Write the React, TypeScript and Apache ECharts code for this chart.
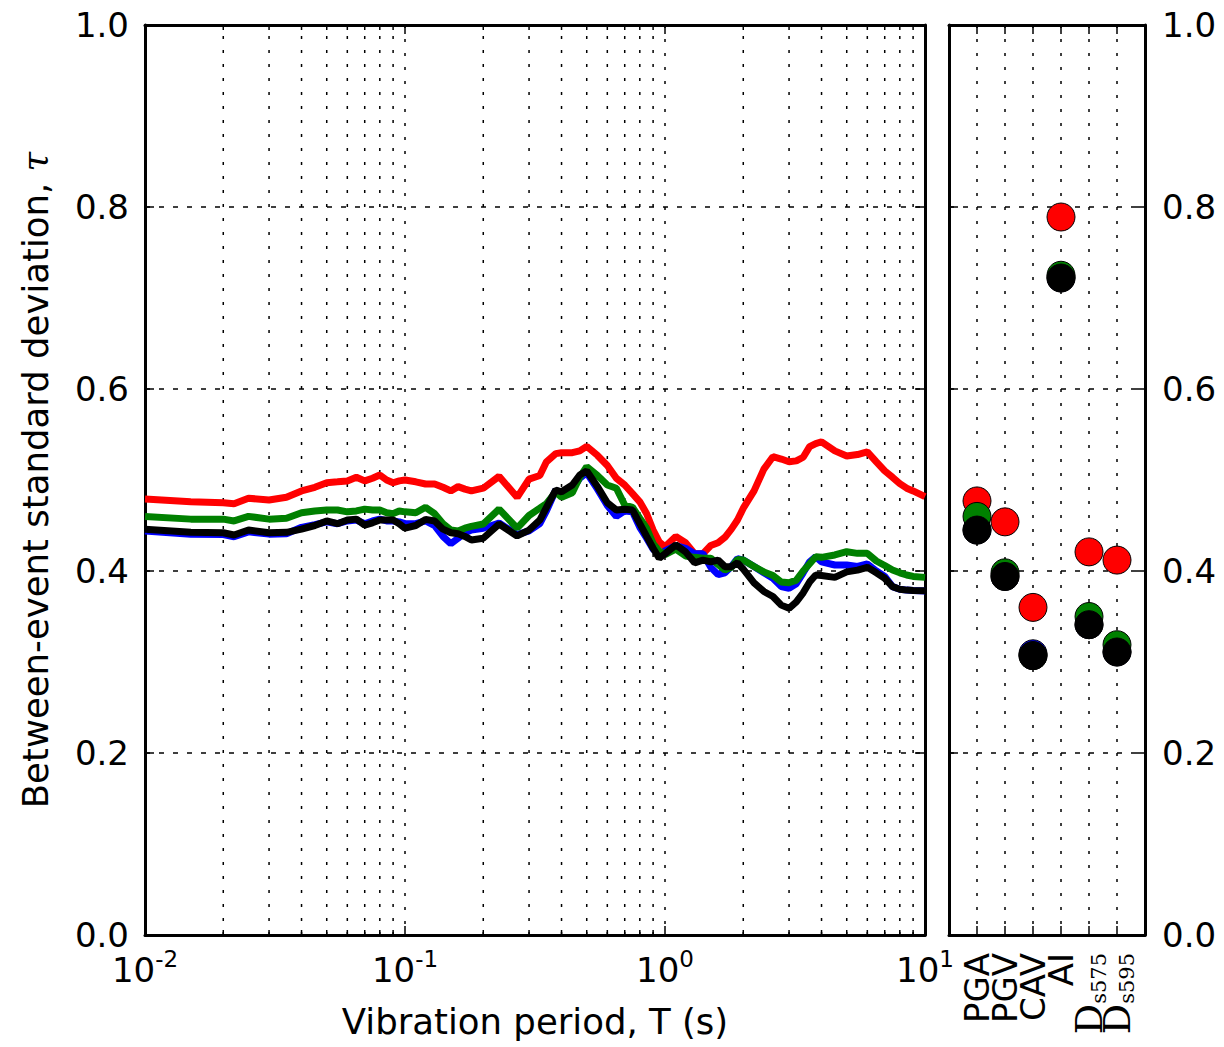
import React, { useEffect, useRef } from 'react';
import * as echarts from 'echarts';

// ---- Data ----
const periods = [0.01, 0.015, 0.02, 0.022, 0.025, 0.03, 0.035, 0.04, 0.045, 0.05,
  0.055, 0.06, 0.065, 0.07, 0.075, 0.08, 0.085, 0.09, 0.095, 0.1,
  0.11, 0.12, 0.13, 0.14, 0.15, 0.16, 0.17, 0.18, 0.2, 0.23,
  0.27, 0.3, 0.33, 0.35, 0.38, 0.4, 0.44, 0.47, 0.5, 0.55,
  0.6, 0.65, 0.7, 0.75, 0.8, 0.85, 0.9, 0.95, 1.0, 1.1,
  1.2, 1.3, 1.4, 1.5, 1.6, 1.7, 1.8, 1.9, 2.0, 2.2,
  2.4, 2.6, 2.8, 3.0, 3.2, 3.4, 3.6, 3.8, 4.0, 4.5,
  5.0, 5.5, 6.0, 6.5, 7.0, 7.5, 8.0, 8.5, 9.0, 10.0];

const tauRed = [0.479, 0.476, 0.475, 0.474, 0.480, 0.478, 0.481, 0.488, 0.492, 0.497,
  0.498, 0.499, 0.503, 0.499, 0.502, 0.5055, 0.500, 0.497, 0.499, 0.500,
  0.498, 0.4956, 0.4956, 0.492, 0.488, 0.4927, 0.490, 0.488, 0.491, 0.504,
  0.481, 0.501, 0.505, 0.520, 0.529, 0.530, 0.530, 0.532, 0.537, 0.527,
  0.516, 0.502, 0.4945, 0.485, 0.476, 0.463, 0.445, 0.432, 0.4267, 0.438,
  0.431, 0.419, 0.419, 0.428, 0.431, 0.437, 0.446, 0.456, 0.469, 0.488,
  0.512, 0.5256, 0.523, 0.520, 0.521, 0.525, 0.5366, 0.540, 0.542, 0.532,
  0.5264, 0.528, 0.531, 0.520, 0.510, 0.503, 0.496, 0.491, 0.488, 0.4817];

const tauBlue = [0.444, 0.4405, 0.440, 0.4376, 0.443, 0.4405, 0.441, 0.448, 0.451, 0.454,
  0.452, 0.455, 0.456, 0.452, 0.455, 0.457, 0.455, 0.455, 0.454, 0.452,
  0.452, 0.455, 0.450, 0.438, 0.430, 0.436, 0.442, 0.445, 0.447, 0.4527,
  0.440, 0.444, 0.452, 0.466, 0.489, 0.484, 0.490, 0.502, 0.508, 0.490,
  0.472, 0.460, 0.466, 0.465, 0.448, 0.436, 0.424, 0.418, 0.422, 0.428,
  0.425, 0.419, 0.419, 0.404, 0.396, 0.398, 0.405, 0.4135, 0.412, 0.405,
  0.398, 0.392, 0.383, 0.381, 0.386, 0.398, 0.410, 0.4157, 0.410, 0.4066,
  0.4066, 0.405, 0.4077, 0.400, 0.394, 0.3828, 0.380, 0.379, 0.3785, 0.378];

const tauGreen = [0.460, 0.457, 0.457, 0.455, 0.460, 0.457, 0.458, 0.464, 0.466, 0.467,
  0.467, 0.465, 0.466, 0.468, 0.467, 0.467, 0.464, 0.463, 0.466, 0.465,
  0.464, 0.470, 0.463, 0.452, 0.445, 0.444, 0.447, 0.449, 0.4516, 0.468,
  0.447, 0.461, 0.469, 0.474, 0.487, 0.481, 0.486, 0.503, 0.5146, 0.505,
  0.4945, 0.491, 0.4725, 0.470, 0.458, 0.447, 0.430, 0.422, 0.418, 0.424,
  0.4165, 0.415, 0.414, 0.414, 0.407, 0.401, 0.404, 0.4128, 0.412, 0.405,
  0.399, 0.395, 0.388, 0.387, 0.390, 0.400, 0.408, 0.4157, 0.415, 0.4176,
  0.4212, 0.4194, 0.4194, 0.411, 0.406, 0.401, 0.398, 0.3956, 0.394, 0.393];

const tauBlack = [0.446, 0.4425, 0.442, 0.4396, 0.445, 0.442, 0.4425, 0.446, 0.450, 0.455,
  0.452, 0.456, 0.457, 0.4505, 0.453, 0.456, 0.456, 0.456, 0.452, 0.447,
  0.450, 0.4567, 0.455, 0.446, 0.442, 0.441, 0.438, 0.434, 0.436, 0.4516,
  0.4385, 0.445, 0.456, 0.470, 0.489, 0.487, 0.4945, 0.5055, 0.510, 0.4927,
  0.475, 0.467, 0.4678, 0.467, 0.452, 0.438, 0.425, 0.414, 0.419, 0.4286,
  0.421, 0.409, 0.412, 0.410, 0.412, 0.4048, 0.4048, 0.409, 0.402, 0.387,
  0.3775, 0.372, 0.3625, 0.359, 0.366, 0.376, 0.388, 0.3956, 0.395, 0.393,
  0.399, 0.401, 0.404, 0.398, 0.392, 0.3828, 0.380, 0.379, 0.3785, 0.3784];

const imtNames = ['PGA', 'PGV', 'CAV', 'AI', 'D|s575', 'D|s595'];
const imtRed = [0.477, 0.454, 0.360, 0.789, 0.421, 0.412];
const imtBlue = [0.445, 0.394, 0.309, 0.722, 0.341, 0.311];
const imtGreen = [0.460, 0.398, 0.307, 0.725, 0.350, 0.319];
const imtBlack = [0.445, 0.394, 0.307, 0.722, 0.341, 0.311];

const minorPeriods = [0.02, 0.03, 0.04, 0.05, 0.06, 0.07, 0.08, 0.09,
  0.2, 0.3, 0.4, 0.5, 0.6, 0.7, 0.8, 0.9,
  2, 3, 4, 5, 6, 7, 8, 9];

const FONT = 'DejaVu Sans';
const FS = 34;
const TFS = 35.5;

export default function App() {
  const ref = useRef<HTMLDivElement>(null);
  useEffect(() => {
    document.body.style.margin = '0';
    const chart = echarts.init(ref.current!, null, { renderer: 'svg' });
    const frameLine = { show: true, onZero: false, lineStyle: { color: '#000', width: 3 } };
    const tick = { show: true, inside: true, length: 9, lineStyle: { color: '#000', width: 1.5 } };
    const dotted = { show: true, lineStyle: { color: '#000', width: 1.5, type: [3, 11] } };
    const dashed = { show: true, lineStyle: { color: '#000', width: 1.5, type: [5, 9] } };
    const noLabel = { show: false };
    const noSplit = { show: false };

    const lineSeries = (data: number[], color: string) => ({
      type: 'line', xAxisIndex: 0, yAxisIndex: 0, showSymbol: false, symbol: 'none',
      data: periods.map((p, i) => [p, data[i]]),
      lineStyle: { color, width: 7 }, itemStyle: { color }, z: 3,
    });
    const dotSeries = (data: number[], color: string) => ({
      type: 'scatter', xAxisIndex: 2, yAxisIndex: 2, symbolSize: 28,
      data: data.map((v, i) => [i, v]),
      itemStyle: { color, borderColor: '#000', borderWidth: 1, opacity: 1 }, z: 3,
    });

    const option: any = {
      animation: false,
      textStyle: { fontFamily: FONT },
      grid: [
        { left: 145, top: 25, width: 780, height: 910 },
        { left: 949, top: 25, width: 196, height: 910 },
      ],
      xAxis: [
        {
          gridIndex: 0, type: 'log', logBase: 10, min: 0.01, max: 10, position: 'bottom',
          axisLine: frameLine, axisTick: tick,
          axisLabel: {
            margin: 12, color: '#000',
            formatter: (v: number) => `{b|10}{s|${Math.round(Math.log10(v))}}`,
            rich: {
              b: { fontSize: FS, fontFamily: FONT, color: '#000', lineHeight: 40, verticalAlign: 'bottom' },
              s: { fontSize: 23, fontFamily: FONT, color: '#000', lineHeight: 24, verticalAlign: 'top' },
            },
          },
          splitLine: dotted,
          name: 'Vibration period, T (s)', nameLocation: 'middle', nameGap: 68,
          nameTextStyle: { fontSize: TFS, color: '#000', fontFamily: FONT },
        },
        {
          gridIndex: 0, type: 'log', logBase: 10, min: 0.01, max: 10, position: 'top',
          axisLine: frameLine, axisTick: tick, axisLabel: noLabel, splitLine: noSplit,
        },
        {
          gridIndex: 1, type: 'value', min: -1, max: 6, interval: 1, position: 'bottom',
          axisLine: frameLine, axisTick: tick, splitLine: dotted,
          axisLabel: {
            rotate: 90, margin: 18, color: '#000',
            formatter: (v: number) => {
              const i = Math.round(v);
              if (i < 0 || i >= imtNames.length) return '';
              const n = imtNames[i];
              if (n.indexOf('|') >= 0) {
                const [a, b] = n.split('|');
                return `{d|${a}}{sub|${b}}`;
              }
              return `{n|${n}}`;
            },
            rich: {
              n: { fontSize: FS, fontFamily: FONT, color: '#000', lineHeight: 40, verticalAlign: 'middle' },
              d: { fontSize: 38, fontFamily: 'DejaVu Serif', color: '#000', lineHeight: 40, verticalAlign: 'middle' },
              sub: { fontSize: 21, fontFamily: 'DejaVu Serif', color: '#000', lineHeight: 22, verticalAlign: 'bottom' },
            },
          },
        },
        {
          gridIndex: 1, type: 'value', min: -1, max: 6, interval: 1, position: 'top',
          axisLine: frameLine, axisTick: tick, axisLabel: noLabel, splitLine: noSplit,
        },
      ],
      yAxis: [
        {
          gridIndex: 0, type: 'value', min: 0, max: 1, interval: 0.2, position: 'left',
          axisLine: frameLine, axisTick: tick, splitLine: dashed,
          axisLabel: { fontSize: FS, color: '#000', margin: 16, fontFamily: FONT, formatter: (v: number) => v.toFixed(1) },
          name: 'Between-event standard deviation, {t|τ}', nameLocation: 'middle', nameGap: 92,
          nameTextStyle: {
            fontSize: TFS, color: '#000', fontFamily: FONT,
            rich: { t: { fontSize: TFS, color: '#000', fontFamily: 'DejaVu Serif', fontStyle: 'italic' } },
          },
        },
        {
          gridIndex: 0, type: 'value', min: 0, max: 1, interval: 0.2, position: 'right',
          axisLine: frameLine, axisTick: tick, axisLabel: noLabel, splitLine: noSplit,
        },
        {
          gridIndex: 1, type: 'value', min: 0, max: 1, interval: 0.2, position: 'right',
          axisLine: frameLine, axisTick: tick, splitLine: dashed,
          axisLabel: { fontSize: FS, color: '#000', margin: 17, fontFamily: FONT, formatter: (v: number) => v.toFixed(1) },
        },
        {
          gridIndex: 1, type: 'value', min: 0, max: 1, interval: 0.2, position: 'left',
          axisLine: frameLine, axisTick: tick, axisLabel: noLabel, splitLine: noSplit,
        },
      ],
      series: [
        {
          type: 'custom', xAxisIndex: 0, yAxisIndex: 0, z: 1, silent: true,
          data: minorPeriods.map((p) => [p, 0]),
          encode: { x: 0, y: 1 },
          renderItem: (params: any, api: any) => {
            const x = api.coord([api.value(0), 0])[0];
            const cs = params.coordSys;
            const top = cs.y;
            const bottom = cs.y + cs.height;
            return {
              type: 'group',
              children: [
                { type: 'line', shape: { x1: x, y1: bottom, x2: x, y2: top }, style: { stroke: '#000', lineWidth: 1.5, lineDash: [3, 11] } },
                { type: 'line', shape: { x1: x, y1: bottom, x2: x, y2: bottom - 5 }, style: { stroke: '#000', lineWidth: 1.5 } },
                { type: 'line', shape: { x1: x, y1: top, x2: x, y2: top + 5 }, style: { stroke: '#000', lineWidth: 1.5 } },
              ],
            };
          },
        },
        lineSeries(tauRed, '#ff0000'),
        lineSeries(tauBlue, '#0000ff'),
        lineSeries(tauGreen, '#008000'),
        lineSeries(tauBlack, '#000000'),
        dotSeries(imtRed, '#ff0000'),
        dotSeries(imtBlue, '#0000ff'),
        dotSeries(imtGreen, '#008000'),
        dotSeries(imtBlack, '#000000'),
      ],
    };
    chart.setOption(option);
    return () => chart.dispose();
  }, []);
  return <div ref={ref} style={{ width: 1224, height: 1047 }} />;
}
